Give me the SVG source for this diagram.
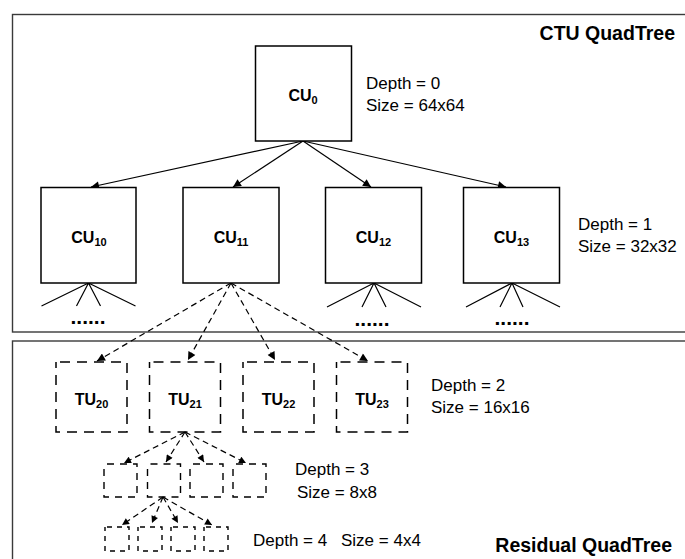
<svg xmlns="http://www.w3.org/2000/svg" width="685" height="559" viewBox="0 0 685 559">
<defs>
<style>
.frame{fill:none;stroke:#3a3a3a;stroke-width:1.4}
.cu{fill:#fff;stroke:#000;stroke-width:1.5}
.tu{fill:none;stroke:#000;stroke-width:1.5;stroke-dasharray:10 7;stroke-dashoffset:-4}
.s1{fill:none;stroke:#000;stroke-width:1.4;stroke-dasharray:7 6;stroke-dashoffset:-3}
.s2{fill:none;stroke:#000;stroke-width:1.4;stroke-dasharray:5 5;stroke-dashoffset:-2}
.lbl{font-family:"Liberation Sans",Arial,sans-serif;font-weight:bold;font-size:16px;text-anchor:middle;fill:#000}
.sub{font-size:11px}
.info{font-family:"Liberation Sans",Arial,sans-serif;font-size:17px;fill:#000}
.title{font-family:"Liberation Sans",Arial,sans-serif;font-weight:bold;font-size:19.5px;fill:#000}
.dots{font-family:"Liberation Sans",Arial,sans-serif;font-weight:bold;font-size:21px;text-anchor:middle;fill:#000}
.solid{fill:none;stroke:#000;stroke-width:1.2}
.dash{fill:none;stroke:#000;stroke-width:1.2;stroke-dasharray:6 4}
</style>
<marker id="ah" viewBox="0 0 10 10" refX="10" refY="5" markerWidth="9" markerHeight="8" markerUnits="userSpaceOnUse" orient="auto">
<path d="M0,0 L10,5 L0,10 z" fill="#000" stroke="none"/>
</marker>
<marker id="ahs" viewBox="0 0 10 10" refX="10" refY="5" markerWidth="8" markerHeight="7" markerUnits="userSpaceOnUse" orient="auto">
<path d="M0,0 L10,5 L0,10 z" fill="#000" stroke="none"/>
</marker>
</defs>

<g id="frames">
<rect class="frame" x="12.5" y="14.5" width="690" height="317.5"/>
<rect class="frame" x="12.5" y="341" width="690" height="240"/>
<text class="title" x="675" y="40" text-anchor="end">CTU QuadTree</text>
<text class="title" x="672" y="552" text-anchor="end">Residual QuadTree</text>
</g>

<g id="connectors">
<line class="solid" x1="303" y1="141" x2="91" y2="187" marker-end="url(#ah)"/>
<line class="solid" x1="303" y1="141" x2="233" y2="187" marker-end="url(#ah)"/>
<line class="solid" x1="303" y1="141" x2="371" y2="187" marker-end="url(#ah)"/>
<line class="solid" x1="303" y1="141" x2="506" y2="187" marker-end="url(#ah)"/>
<path class="solid" d="M88.5,283 L41.5,306 M88.5,283 L76.5,306 M88.5,283 L100.5,306 M88.5,283 L135.5,306"/>
<path class="solid" d="M374,283 L327,307 M374,283 L362,307 M374,283 L386,307 M374,283 L421,307"/>
<path class="solid" d="M512,283 L466,307 M512,283 L500,307 M512,283 L523,307 M512,283 L560,307"/>
<line class="dash" x1="231" y1="283" x2="97" y2="361" marker-end="url(#ah)"/>
<line class="dash" x1="231" y1="283" x2="188" y2="360" marker-end="url(#ah)"/>
<line class="dash" x1="231" y1="283" x2="275" y2="360" marker-end="url(#ah)"/>
<line class="dash" x1="231" y1="283" x2="368" y2="361" marker-end="url(#ah)"/>
<line class="dash" x1="185" y1="432" x2="124" y2="463" marker-end="url(#ahs)"/>
<line class="dash" x1="185" y1="432" x2="166" y2="462" marker-end="url(#ahs)"/>
<line class="dash" x1="185" y1="432" x2="204" y2="462" marker-end="url(#ahs)"/>
<line class="dash" x1="185" y1="432" x2="246" y2="463" marker-end="url(#ahs)"/>
<line class="dash" x1="163" y1="497" x2="122" y2="525" marker-end="url(#ahs)"/>
<line class="dash" x1="163" y1="497" x2="152" y2="523" marker-end="url(#ahs)"/>
<line class="dash" x1="163" y1="497" x2="178" y2="523" marker-end="url(#ahs)"/>
<line class="dash" x1="163" y1="497" x2="212" y2="525" marker-end="url(#ahs)"/>
<text class="dots" x="88" y="324">......</text>
<text class="dots" x="372" y="326">......</text>
<text class="dots" x="512" y="325">......</text>
</g>

<g id="CU0">
<rect class="cu" x="255.5" y="46" width="96" height="95"/>
<text class="lbl" x="303" y="101">CU<tspan class="sub" dy="2.5">0</tspan></text>
</g>
<g id="CU10">
<rect class="cu" x="41" y="187.5" width="95" height="95.5"/>
<text class="lbl" x="89" y="243">CU<tspan class="sub" dy="2.5">10</tspan></text>
</g>
<g id="CU11">
<rect class="cu" x="183" y="187.5" width="96" height="95.5"/>
<text class="lbl" x="231" y="243">CU<tspan class="sub" dy="2.5">11</tspan></text>
</g>
<g id="CU12">
<rect class="cu" x="325.5" y="187.5" width="96" height="95.5"/>
<text class="lbl" x="373.5" y="243">CU<tspan class="sub" dy="2.5">12</tspan></text>
</g>
<g id="CU13">
<rect class="cu" x="463.5" y="187.5" width="96" height="95.5"/>
<text class="lbl" x="511.5" y="243">CU<tspan class="sub" dy="2.5">13</tspan></text>
</g>

<g id="TU20">
<rect class="tu" x="56" y="362" width="71" height="70"/>
<text class="lbl" x="91.5" y="405">TU<tspan class="sub" dy="2.5">20</tspan></text>
</g>
<g id="TU21">
<rect class="tu" x="149.5" y="362" width="71" height="70"/>
<text class="lbl" x="185" y="405">TU<tspan class="sub" dy="2.5">21</tspan></text>
</g>
<g id="TU22">
<rect class="tu" x="243" y="362" width="71" height="70"/>
<text class="lbl" x="278.5" y="405">TU<tspan class="sub" dy="2.5">22</tspan></text>
</g>
<g id="TU23">
<rect class="tu" x="336.5" y="362" width="71" height="70"/>
<text class="lbl" x="372" y="405">TU<tspan class="sub" dy="2.5">23</tspan></text>
</g>

<g id="TU3_0"><rect class="s1" x="104" y="464" width="33" height="33"/></g>
<g id="TU3_1"><rect class="s1" x="147.5" y="464" width="33" height="33"/></g>
<g id="TU3_2"><rect class="s1" x="190" y="464" width="33" height="33"/></g>
<g id="TU3_3"><rect class="s1" x="233" y="464" width="33" height="33"/></g>

<g id="TU4_0"><rect class="s2" x="105" y="527" width="24" height="24"/></g>
<g id="TU4_1"><rect class="s2" x="138" y="527" width="24" height="24"/></g>
<g id="TU4_2"><rect class="s2" x="171" y="527" width="24" height="24"/></g>
<g id="TU4_3"><rect class="s2" x="204" y="527" width="24" height="24"/></g>

<g id="labels">
<text class="info" x="366" y="89">Depth = 0</text>
<text class="info" x="366" y="111">Size = 64x64</text>
<text class="info" x="578" y="230">Depth = 1</text>
<text class="info" x="578" y="252">Size = 32x32</text>
<text class="info" x="431" y="391">Depth = 2</text>
<text class="info" x="431" y="413">Size = 16x16</text>
<text class="info" x="295" y="475">Depth = 3</text>
<text class="info" x="297" y="498">Size = 8x8</text>
<text class="info" x="253" y="546">Depth = 4</text>
<text class="info" x="341" y="546">Size = 4x4</text>
</g>
</svg>
